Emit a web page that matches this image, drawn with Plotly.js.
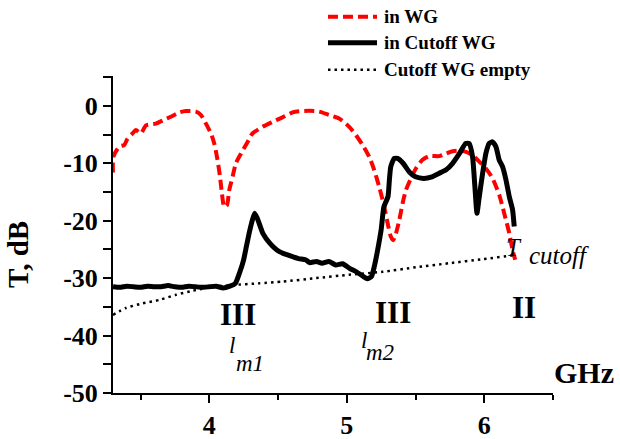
<!DOCTYPE html>
<html>
<head>
<meta charset="utf-8">
<script src="https://cdn.plot.ly/plotly-3.0.1.min.js"></script>
<style>
  html, body { margin: 0; padding: 0; background: #fff; }
  #chart { width: 620px; height: 439px; }
</style>
</head>
<body>
<div id="chart"></div>
<script>
// Transmission through the waveguide, frequency in GHz, T in dB
const freqInWG = [3.300, 3.302, 3.345, 3.382, 3.406, 3.442, 3.467, 3.503, 3.540, 3.612, 3.673, 3.721, 3.782, 3.830,
  3.903, 3.940, 3.976, 4.012, 4.036, 4.060, 4.078, 4.092, 4.109, 4.129, 4.145, 4.170, 4.194, 4.231, 4.279, 4.315,
  4.388, 4.460, 4.533, 4.606, 4.654, 4.727, 4.800, 4.873, 4.945, 5.018, 5.067, 5.115, 5.164, 5.200, 5.236, 5.273,
  5.297, 5.321, 5.338, 5.358, 5.382, 5.406, 5.430, 5.467, 5.503, 5.551, 5.600, 5.673, 5.721, 5.770, 5.818, 5.867,
  5.915, 5.964, 6.012, 6.060, 6.109, 6.145, 6.182, 6.206, 6.225];
const tInWG = [-11.6, -8.9, -7.1, -6.8, -5.7, -4.8, -4.2, -4.8, -3.4, -3.1, -2.4, -1.9, -1.15, -0.9,
  -1.0, -1.6, -3.1, -4.8, -6.5, -9.4, -12.3, -15.2, -17.6, -17.3, -14.7, -12.3, -10.0, -8.3, -6.3, -4.8,
  -3.65, -2.8, -2.0, -1.15, -0.95, -0.87, -1.0, -1.6, -2.2, -3.65, -5.1, -6.8, -8.9, -11.2, -14.1, -17.6,
  -20.4, -22.8, -23.4, -22.2, -19.9, -17.0, -14.7, -12.6, -10.9, -9.4, -8.75, -8.75, -8.3, -7.9, -7.8, -8.0,
  -8.6, -9.7, -10.9, -12.6, -15.5, -18.7, -22.2, -25.1, -26.8];

const freqCutoff = [3.30, 3.35, 3.40, 3.45, 3.50, 3.55, 3.60, 3.65, 3.70, 3.75, 3.80, 3.85, 3.90, 3.95, 4.00,
  4.05, 4.10, 4.15, 4.19, 4.22, 4.25, 4.27, 4.29, 4.31, 4.33, 4.35, 4.39, 4.44, 4.51, 4.61, 4.65, 4.70, 4.73,
  4.78, 4.82, 4.87, 4.92, 4.97, 5.02, 5.07, 5.12, 5.15, 5.18, 5.20, 5.22, 5.25, 5.27, 5.30, 5.31, 5.32, 5.345,
  5.37, 5.41, 5.455, 5.50, 5.56, 5.62, 5.67, 5.72, 5.77, 5.82, 5.865, 5.89, 5.915, 5.932, 5.947, 5.964, 5.988,
  6.012, 6.036, 6.06, 6.085, 6.109, 6.133, 6.158, 6.182, 6.206, 6.218];
const tCutoff = [-31.5, -31.6, -31.4, -31.5, -31.6, -31.4, -31.5, -31.5, -31.3, -31.5, -31.6, -31.4, -31.5, -31.6, -31.5,
  -31.4, -31.7, -31.4, -30.9, -29.1, -26.8, -24.5, -22.2, -20.2, -18.7, -19.6, -22.2, -23.9, -25.4, -26.3, -26.6, -26.8, -27.3,
  -27.1, -27.4, -27.1, -27.7, -27.5, -28.3, -28.9, -29.7, -30.1, -29.7, -28.0, -25.7, -21.6, -17.6, -15.8, -12.9, -10.6, -9.15,
  -9.15, -10.0, -11.5, -12.35, -12.63, -12.35, -11.76, -11.18, -10.0, -8.28, -6.54, -6.54, -8.87, -14.09, -18.71, -15.8, -11.76,
  -8.28, -6.54, -6.26, -7.13, -9.44, -10.6, -12.9, -15.8, -18.1, -21.0];

const freqEmpty = [3.300, 3.394, 3.515, 3.636, 3.758, 3.879, 4.000, 4.170, 4.364, 4.533, 4.776, 5.018, 5.260,
  5.503, 5.745, 5.988, 6.206, 6.230];
const tEmpty = [-36.4, -35.2, -34.4, -33.8, -32.9, -32.2, -31.6, -31.2, -30.9, -30.6, -30.0, -29.4, -28.9,
  -28.1, -27.4, -26.7, -26.0, -25.8];

const seriesNames = ['in WG', 'in Cutoff WG', 'Cutoff WG empty'];
const xTickVals = [4, 5, 6];
const yTickVals = [0, -10, -20, -30, -40, -50];

const serif = 'Liberation Serif, Times New Roman, serif';

// line styles shared by the curves and their key entries
const styles = [
  { color: '#ff0000', width: 4, dash: '10px,5px' },
  { color: '#000000', width: 5, dash: 'solid' },
  { color: '#000000', width: 2.5, dash: '2.5px,4px' }
];

const traces = [
  { x: freqInWG, y: tInWG, name: seriesNames[0], mode: 'lines', showlegend: false,
    line: Object.assign({ shape: 'spline', smoothing: 0.6 }, styles[0]) },
  { x: freqCutoff, y: tCutoff, name: seriesNames[1], mode: 'lines', showlegend: false,
    line: Object.assign({ shape: 'spline', smoothing: 0.5 }, styles[1]) },
  { x: freqEmpty, y: tEmpty, name: seriesNames[2], mode: 'lines', showlegend: false,
    line: Object.assign({ shape: 'spline', smoothing: 0.6 }, styles[2]) }
];

const boldTick = { family: serif, size: 26, color: '#000', weight: 'bold' };

function note(text, x, y, size, opts) {
  return Object.assign({
    text: text, x: x, y: y, xref: 'x', yref: 'y', showarrow: false,
    xanchor: 'center', yanchor: 'middle',
    font: { family: serif, size: size, color: '#000' }
  }, opts || {});
}

const annotations = [
  note('<b>III</b>', 4.207, -36.4, 31),
  note('<b>III</b>', 5.338, -36.0, 31),
  note('<b>II</b>', 6.287, -35.1, 31),
  note('<i>l</i>', 4.131, -41.8, 23, { xanchor: 'left' }),
  note('<i>m1</i>', 4.182, -44.8, 23, { xanchor: 'left' }),
  note('<i>l</i>', 5.091, -40.9, 23, { xanchor: 'left' }),
  note('<i>m2</i>', 5.127, -43.0, 23, { xanchor: 'left' }),
  note('<i>T</i>', 6.14, -24.6, 25, { xanchor: 'left' }),
  note('<i>cutoff</i>', 6.313, -26.1, 25, { xanchor: 'left' }),
  // unit label at the right end of the frequency axis
  { text: '<b>GHz</b>', xref: 'paper', yref: 'paper', x: 1.0705, y: 0.066,
    xanchor: 'center', yanchor: 'middle', showarrow: false,
    font: { family: serif, size: 30, color: '#000' } },
  { text: '<b>T, dB</b>', xref: 'paper', yref: 'paper', x: -0.216, y: 0.4385,
    xanchor: 'center', yanchor: 'middle', textangle: -90, showarrow: false,
    font: { family: serif, size: 29, color: '#000' } }
];

// key above the plot: a short line sample followed by the series name
const keyRows = [1.187, 1.105, 1.020];
const keyX0 = 0.4886, keyX1 = 0.600, keyTextX = 0.611;
const shapes = [];
keyRows.forEach((yy, i) => {
  shapes.push({ type: 'line', xref: 'paper', yref: 'paper', x0: keyX0, x1: keyX1, y0: yy, y1: yy,
    line: styles[i] });
  annotations.push({ text: '<b>' + seriesNames[i] + '</b>', xref: 'paper', yref: 'paper',
    x: keyTextX, y: yy, xanchor: 'left', yanchor: 'middle', showarrow: false,
    font: { family: serif, size: 19, color: '#000' } });
});

const layout = {
  width: 620, height: 439,
  margin: { l: 113, r: 67, t: 76, b: 46 },
  paper_bgcolor: '#ffffff', plot_bgcolor: '#ffffff',
  font: { family: serif, color: '#000' },
  showlegend: false,
  xaxis: {
    range: [3.3, 6.5], showgrid: false, zeroline: false,
    showline: true, linecolor: '#000', linewidth: 2, mirror: false,
    tickmode: 'array', tickvals: xTickVals, ticktext: xTickVals.map(String),
    ticks: 'outside', ticklen: 8, tickwidth: 2, tickcolor: '#000',
    tickfont: boldTick,
    minor: { dtick: 0.5, tick0: 3.5, ticks: 'outside', ticklen: 5, tickwidth: 2, tickcolor: '#000' }
  },
  yaxis: {
    range: [-50, 5.2], showgrid: false, zeroline: false,
    showline: true, linecolor: '#000', linewidth: 2, mirror: false,
    tickmode: 'array', tickvals: yTickVals, ticktext: yTickVals.map(String),
    ticks: 'outside', ticklen: 8, tickwidth: 2, tickcolor: '#000',
    tickfont: boldTick,
    minor: { dtick: 5, tick0: 5, ticks: 'outside', ticklen: 8, tickwidth: 2, tickcolor: '#000' }
  },
  shapes: shapes,
  annotations: annotations
};

Plotly.newPlot('chart', traces, layout, { staticPlot: true, displayModeBar: false });
</script>
</body>
</html>
